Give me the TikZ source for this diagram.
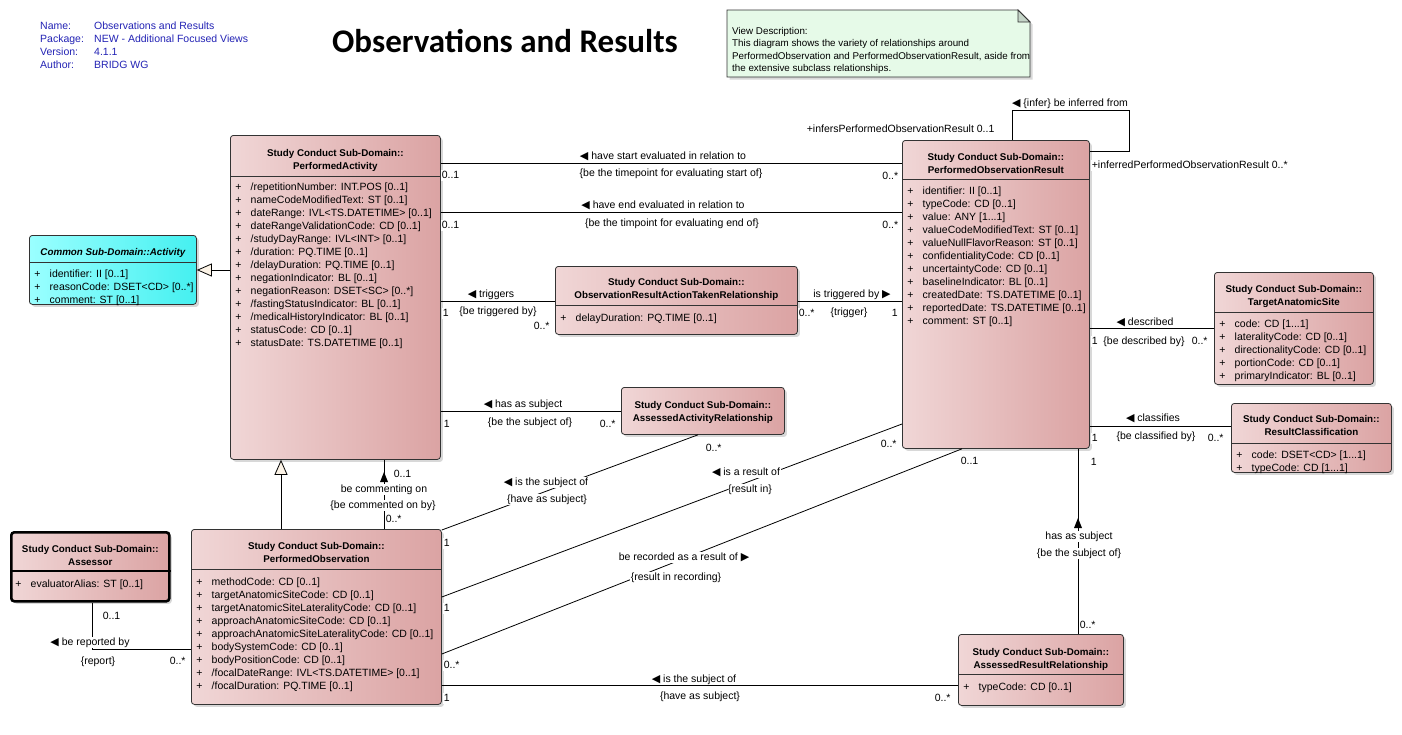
\documentclass[tikz,border=0pt]{standalone}
\usepackage{fontspec}
\setmainfont{Liberation Sans}
\newfontfamily\symfont{DejaVu Sans}
\newfontfamily\titlefont{Carlito}
\usetikzlibrary{arrows.meta,shadows}
\definecolor{boxL}{HTML}{F0D6D6}
\definecolor{boxR}{HTML}{DBA3A3}
\definecolor{cyanL}{HTML}{9AFFFF}
\definecolor{cyanR}{HTML}{45F0F0}
\definecolor{noteC}{HTML}{E6FAE8}
\definecolor{foldC}{HTML}{C5D5C8}
\definecolor{infoC}{HTML}{2323B5}
\definecolor{genC}{HTML}{FCF3E6}
\newcommand\la{{\symfont\fontsize{11}{11}\selectfont ◀}}
\newcommand\ra{{\symfont\fontsize{11}{11}\selectfont ▶}}
\newcommand\attrs[5]{%
  \node[acol, anchor=north] (#1p) at (#2+8.5,#3-3.4) {\strut#4};
  \node[acol, anchor=north west] (#1t) at (#2+20.5,#3-3.4) {\strut#5};}
\tikzset{
  reg/.style={font=\fontsize{10.5}{13}\selectfont},
  umlbox/.style={draw=black!80, line width=0.8pt, rounded corners=3pt, left color=boxL, right color=boxR,
    drop shadow={shadow xshift=2.5pt,shadow yshift=-2.5pt,fill=black!30}, inner sep=0, anchor=north west},
  cyanbox/.style={umlbox, left color=cyanL, right color=cyanR},
  hdr/.style={font=\fontsize{9.8}{12}\selectfont\bfseries, inner sep=0, text height=7pt, text depth=2pt, yshift=-2.5pt},
  acol/.style={reg, align=left, inner sep=0},
  lbl/.style={reg, inner sep=0.6pt, fill=white, text height=7.6pt, text depth=2.2pt, yshift=-1.8pt},
  info/.style={reg, text=infoC, inner sep=0, anchor=west, text height=7.6pt, text depth=2.2pt, yshift=-2pt},
  assoc/.style={draw=black, line width=0.8pt},
  gen/.style={draw=black, line width=0.8pt, -{Triangle[open,length=15pt,width=13pt,fill=genC]}},
  sep/.style={draw=black!80, line width=0.8pt},
}
\begin{document}
\begin{tikzpicture}[x=1pt,y=-1pt]
\useasboundingbox (0,0) rectangle (1402,734);
\fill[white] (0,0) rectangle (1402,734);

% header info
\node[info] (i1) at (40,25) {Name:};
\node[info] (i2) at (40,38) {Package:};
\node[info] (i3) at (40,51) {Version:};
\node[info] (i4) at (40,64) {Author:};
\node[info] (v1) at (94,25) {Observations and Results};
\node[info] (v2) at (94,38) {NEW - Additional Focused Views};
\node[info] (v3) at (94,51) {4.1.1};
\node[info] (v4) at (94,64) {BRIDG WG};
\node[font=\titlefont\bfseries\fontsize{33}{36}\selectfont, inner sep=0] (title) at (505,41) {Observations and Results};

% note
\path[draw=black!80, line width=0.8pt, fill=noteC, drop shadow={shadow xshift=2.5pt,shadow yshift=-2.5pt,fill=black!30}]
  (727,10) -- (1018,10) -- (1030,22) -- (1030,77) -- (727,77) -- cycle;
\path[draw=black!80, line width=0.8pt, fill=foldC] (1018,10) -- (1018,22) -- (1030,22) -- cycle;
\node[font=\fontsize{9.8}{12.3}\selectfont, align=left, inner sep=0, anchor=north west] (note) at (732,25.6)
  {\strut View Description:\\This diagram shows the variety of relationships around\\PerformedObservation and PerformedObservationResult, aside from\\the extensive subclass relationships.};

% ---------- classes ----------
% PerformedActivity
\node[umlbox, minimum width=210, minimum height=324] (pa) at (230,135) {};
\draw[sep] (pa.west |- 0,176) -- (pa.east |- 0,176);
\node[hdr] (pah1) at (pa.north |- 0,151) {Study Conduct Sub-Domain::};
\node[hdr] (pah2) at (pa.north |- 0,164) {PerformedActivity};
\attrs{pa}{230}{185}{+\\+\\+\\+\\+\\+\\+\\+\\+\\+\\+\\+\\+}{/repetitionNumber: INT.POS [0..1]\\nameCodeModifiedText: ST [0..1]\\dateRange: IVL<TS.DATETIME> [0..1]\\dateRangeValidationCode: CD [0..1]\\/studyDayRange: IVL<INT> [0..1]\\/duration: PQ.TIME [0..1]\\/delayDuration: PQ.TIME [0..1]\\negationIndicator: BL [0..1]\\negationReason: DSET<SC> [0..*]\\/fastingStatusIndicator: BL [0..1]\\/medicalHistoryIndicator: BL [0..1]\\statusCode: CD [0..1]\\statusDate: TS.DATETIME [0..1]}

% PerformedObservationResult
\node[umlbox, minimum width=187, minimum height=308] (por) at (902,140) {};
\draw[sep] (por.west |- 0,179) -- (por.east |- 0,179);
\node[hdr] (porh1) at (por.north |- 0,155) {Study Conduct Sub-Domain::};
\node[hdr] (porh2) at (por.north |- 0,168) {PerformedObservationResult};
\attrs{por}{902}{189}{+\\+\\+\\+\\+\\+\\+\\+\\+\\+\\+}{identifier: II [0..1]\\typeCode: CD [0..1]\\value: ANY [1...1]\\valueCodeModifiedText: ST [0..1]\\valueNullFlavorReason: ST [0..1]\\confidentialityCode: CD [0..1]\\uncertaintyCode: CD [0..1]\\baselineIndicator: BL [0..1]\\createdDate: TS.DATETIME [0..1]\\reportedDate: TS.DATETIME [0..1]\\comment: ST [0..1]}

% Activity
\node[cyanbox, minimum width=167, minimum height=69] (act) at (29,235) {};
\draw[sep] (act.west |- 0,262) -- (act.east |- 0,262);
\node[hdr, font=\fontsize{9.8}{12}\selectfont\bfseries\itshape] (acth) at (act.north |- 0,250) {Common Sub-Domain::Activity};
\attrs{act}{29}{272}{+\\+\\+}{identifier: II [0..1]\\reasonCode: DSET<CD> [0..*]\\comment: ST [0..1]}

% ObservationResultActionTakenRelationship
\node[umlbox, minimum width=242, minimum height=68] (orat) at (555,266) {};
\draw[sep] (orat.west |- 0,305) -- (orat.east |- 0,305);
\node[hdr] (orath1) at (orat.north |- 0,280) {Study Conduct Sub-Domain::};
\node[hdr] (orath2) at (orat.north |- 0,293) {ObservationResultActionTakenRelationship};
\attrs{orat}{555}{316}{+}{delayDuration: PQ.TIME [0..1]}

% AssessedActivityRelationship
\node[umlbox, minimum width=163, minimum height=47] (aar) at (621,387) {};
\node[hdr] (aarh1) at (aar.north |- 0,403) {Study Conduct Sub-Domain::};
\node[hdr] (aarh2) at (aar.north |- 0,416) {AssessedActivityRelationship};

% TargetAnatomicSite
\node[umlbox, minimum width=159, minimum height=112] (tas) at (1214,272) {};
\draw[sep] (tas.west |- 0,312) -- (tas.east |- 0,312);
\node[hdr] (tash1) at (tas.north |- 0,287) {Study Conduct Sub-Domain::};
\node[hdr] (tash2) at (tas.north |- 0,300) {TargetAnatomicSite};
\attrs{tas}{1214}{322}{+\\+\\+\\+\\+}{code: CD [1...1]\\lateralityCode: CD [0..1]\\directionalityCode: CD [0..1]\\portionCode: CD [0..1]\\primaryIndicator: BL [0..1]}

% ResultClassification
\node[umlbox, minimum width=160, minimum height=69] (rc) at (1231,403) {};
\draw[sep] (rc.west |- 0,443) -- (rc.east |- 0,443);
\node[hdr] (rch1) at (rc.north |- 0,417) {Study Conduct Sub-Domain::};
\node[hdr] (rch2) at (rc.north |- 0,430) {ResultClassification};
\attrs{rc}{1231}{453}{+\\+}{code: DSET<CD> [1...1]\\typeCode: CD [1...1]}

% PerformedObservation
\node[umlbox, minimum width=250, minimum height=175] (po) at (191,529) {};
\draw[sep] (po.west |- 0,569) -- (po.east |- 0,569);
\node[hdr] (poh1) at (po.north |- 0,544) {Study Conduct Sub-Domain::};
\node[hdr] (poh2) at (po.north |- 0,557) {PerformedObservation};
\attrs{po}{191}{580}{+\\+\\+\\+\\+\\+\\+\\+\\+}{methodCode: CD [0..1]\\targetAnatomicSiteCode: CD [0..1]\\targetAnatomicSiteLateralityCode: CD [0..1]\\approachAnatomicSiteCode: CD [0..1]\\approachAnatomicSiteLateralityCode: CD [0..1]\\bodySystemCode: CD [0..1]\\bodyPositionCode: CD [0..1]\\/focalDateRange: IVL<TS.DATETIME> [0..1]\\/focalDuration: PQ.TIME [0..1]}

% Assessor
\node[umlbox, draw=black, line width=2.6pt, minimum width=158, minimum height=69] (asr) at (10,531) {};
\draw[draw=black, line width=2pt] (asr.west |- 0,571) -- (asr.east |- 0,571);
\node[hdr] (asrh1) at (asr.north |- 0,547) {Study Conduct Sub-Domain::};
\node[hdr] (asrh2) at (asr.north |- 0,560) {Assessor};
\attrs{asr}{10}{582}{+}{evaluatorAlias: ST [0..1]}

% AssessedResultRelationship
\node[umlbox, minimum width=165, minimum height=71] (arr) at (958,634) {};
\draw[sep] (arr.west |- 0,674) -- (arr.east |- 0,674);
\node[hdr] (arrh1) at (arr.north |- 0,650) {Study Conduct Sub-Domain::};
\node[hdr] (arrh2) at (arr.north |- 0,663) {AssessedResultRelationship};
\attrs{arr}{958}{685}{+}{typeCode: CD [0..1]}

% ---------- connectors ----------
\draw[gen] (pa.west |- 0,270) -- (act.east |- 0,270);
\draw[gen] (po.north -| 281,0) -- (pa.south -| 281,0);
\draw[assoc] (pa.east |- 0,163) -- (por.west |- 0,163);
\draw[assoc] (pa.east |- 0,212) -- (por.west |- 0,212);
\draw[assoc] (pa.east |- 0,301) -- (orat.west |- 0,301);
\draw[assoc] (orat.east |- 0,301) -- (por.west |- 0,301);
\draw[assoc] (pa.east |- 0,411) -- (aar.west |- 0,411);
\draw[assoc] (po.north -| 384,0) -- (pa.south -| 384,0);
\draw[assoc] (asr.south -| 92,0) |- (po.west |- 0,649);
\draw[assoc] (po.east |- 0,530) -- (aar.south -| 698,0);
\draw[assoc] (po.east |- 0,597) -- (por.west |- 0,424);
\draw[assoc] (po.east |- 0,654) -- (por.south -| 962,0);
\draw[assoc] (po.east |- 0,685) -- (arr.west |- 0,685);
\draw[assoc] (por.south -| 1078,0) -- (arr.north -| 1078,0);
\draw[assoc] (por.east |- 0,328) -- (tas.west |- 0,328);
\draw[assoc] (por.east |- 0,426) -- (rc.west |- 0,426);
\coordinate (loopc) at (1129,110);
\draw[assoc] (por.north -| 1012,0) |- (loopc) |- (por.east |- 0,151);

% ---------- labels ----------
\node[lbl] (l1a) at (663,155) {\la\ have start evaluated in relation to};
\node[lbl] (l1b) at (671,172) {\{be the timepoint for evaluating start of\}};
\node[lbl, anchor=west] (m1a) at (441,174) {0..1};
\node[lbl, anchor=east] (m1b) at (899,175) {0..*};
\node[lbl] (l2a) at (663,204) {\la\ have end evaluated in relation to};
\node[lbl] (l2b) at (672,222) {\{be the timpoint for evaluating end of\}};
\node[lbl, anchor=west] (m2a) at (441,224) {0..1};
\node[lbl, anchor=east] (m2b) at (899,224) {0..*};

\node[lbl] (l3a) at (491,293) {\la\ triggers};
\node[lbl] (l3b) at (498,310) {\{be triggered by\}};
\node[lbl, anchor=west] (m3a) at (442,312) {1};
\node[lbl, anchor=west] (m3b) at (533,325) {0..*};
\node[lbl] (l4a) at (852,293) {is triggered by \ra};
\node[lbl] (l4b) at (849,311) {\{trigger\}};
\node[lbl, anchor=west] (m4a) at (798,312) {0..*};
\node[lbl, anchor=west] (m4b) at (891,312) {1};

\node[lbl] (l5a) at (523,403) {\la\ has as subject};
\node[lbl] (l5b) at (530,421) {\{be the subject of\}};
\node[lbl, anchor=west] (m5a) at (443,423) {1};
\node[lbl, anchor=west] (m5b) at (599,423) {0..*};

\node[lbl] (l6a) at (546,481) {\la\ is the subject of};
\node[lbl] (l6b) at (547,498) {\{have as subject\}};
\node[lbl, anchor=west] (m6a) at (443,542) {1};
\node[lbl, anchor=west] (m6b) at (705,447) {0..*};

\node[lbl] (l7a) at (746,471) {\la\ is a result of};
\node[lbl] (l7b) at (750,488) {\{result in\}};
\node[lbl, anchor=west] (m7a) at (443,607) {1};
\node[lbl, anchor=west] (m7b) at (880,443) {0..*};

\node[lbl] (l8a) at (684,556) {be recorded as a result of \ra};
\node[lbl] (l8b) at (676,576) {\{result in recording\}};
\node[lbl, anchor=west] (m8a) at (443,664) {0..*};
\node[lbl, anchor=west] (m8b) at (960,460) {0..1};

\node[lbl] (l9a) at (694,678) {\la\ is the subject of};
\node[lbl] (l9b) at (700,695) {\{have as subject\}};
\node[lbl, anchor=west] (m9a) at (443,697) {1};
\node[lbl, anchor=west] (m9b) at (934,697) {0..*};

\node[lbl, anchor=west] (m10a) at (393,473) {0..1};
\node[lbl] (l10a) at (384,488) {be commenting on};
\node[lbl] (l10b) at (383,504) {\{be commented on by\}};
\node[lbl, anchor=west] (m10b) at (385,518) {0..*};
\fill (380,482) -- (388,482) -- (384,472) -- cycle;

\node[lbl, anchor=west] (m11a) at (102,615) {0..1};
\node[lbl] (l11a) at (90,641) {\la\ be reported by};
\node[lbl] (l11b) at (98,660) {\{report\}};
\node[lbl, anchor=west] (m11b) at (169,660) {0..*};

\node[lbl, anchor=west] (m12a) at (1090,461) {1};
\fill (1074,528) -- (1082,528) -- (1078,518) -- cycle;
\node[lbl] (l12a) at (1079,535) {has as subject};
\node[lbl] (l12b) at (1079,552) {\{be the subject of\}};
\node[lbl, anchor=west] (m12b) at (1079,624) {0..*};

\node[lbl] (l13a) at (1145,321) {\la\ described};
\node[lbl, anchor=west] (m13a) at (1091,340) {1};
\node[lbl] (l13b) at (1144,340) {\{be described by\}};
\node[lbl, anchor=west] (m13b) at (1191,340) {0..*};

\node[lbl] (l14a) at (1153,417) {\la\ classifies};
\node[lbl, anchor=west] (m14a) at (1091,437) {1};
\node[lbl] (l14b) at (1156,435) {\{be classified by\}};
\node[lbl, anchor=west] (m14b) at (1207,437) {0..*};

\node[lbl] (l15a) at (1070,102) {\la\ \{infer\} be inferred from};
\node[lbl, anchor=west] (l15b) at (806,128) {+infersPerformedObservationResult 0..1};
\node[lbl, anchor=west] (l15c) at (1091,164) {+inferredPerformedObservationResult 0..*};
\end{tikzpicture}
\end{document}
